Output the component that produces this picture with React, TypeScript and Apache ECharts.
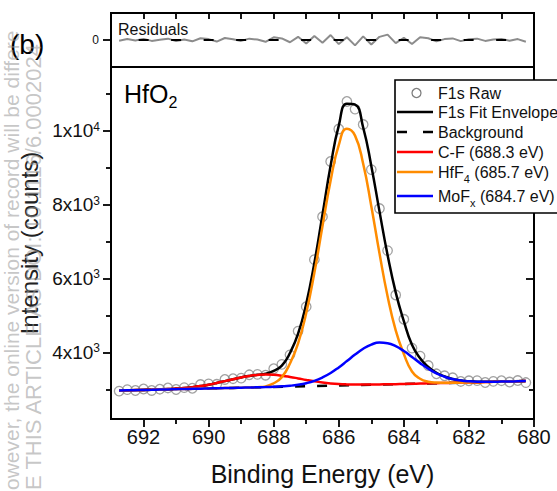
import React, { useEffect, useRef } from "react";
import * as echarts from "echarts";

const FONT = "'Liberation Sans', Arial, Helvetica, sans-serif";

// Binding energy grid (eV)
const energy = [692.75, 692.5, 692.25, 692, 691.75, 691.5, 691.25, 691, 690.75, 690.5, 690.25, 690, 689.75, 689.5, 689.25, 689, 688.75, 688.5, 688.25, 688, 687.75, 687.5, 687.25, 687, 686.75, 686.5, 686.25, 686, 685.75, 685.5, 685.25, 685, 684.75, 684.5, 684.25, 684, 683.75, 683.5, 683.25, 683, 682.75, 682.5, 682.25, 682, 681.75, 681.5, 681.25, 681, 680.75, 680.5, 680.25];

// F1s raw counts
const rawCounts = [2955, 2995, 2971, 3011, 2972, 3006, 3040, 2998, 3049, 3032, 3132, 3149, 3139, 3269, 3290, 3305, 3395, 3407, 3384, 3560, 3678, 3935, 4577, 5236, 6509, 7671, 9164, 10044, 10787, 10581, 10164, 8945, 7892, 6754, 5555, 4897, 4117, 3901, 3646, 3422, 3369, 3315, 3216, 3234, 3239, 3187, 3218, 3236, 3200, 3240, 3185];

// Fit envelope
const fitEnvelope = [2970, 2975, 2981, 2986, 2992, 3001, 3010, 3023, 3039, 3062, 3092, 3129, 3174, 3224, 3275, 3325, 3365, 3397, 3424, 3500, 3643, 3985, 4507, 5316, 6419, 7731, 9054, 10134, 10727, 10701, 10084, 9045, 7822, 6634, 5625, 4847, 4207, 3841, 3606, 3452, 3349, 3280, 3241, 3219, 3209, 3207, 3208, 3211, 3215, 3220, 3225];

// Components (drawn on the background)
const cfComponent = [2970, 2975, 2981, 2986, 2992, 3001, 3010, 3023, 3039, 3062, 3092, 3129, 3174, 3224, 3275, 3325, 3365, 3391, 3402, 3395, 3372, 3338, 3298, 3256, 3218, 3187, 3163, 3146, 3136, 3131, 3130, 3132, 3135, 3139, 3143, 3149, 3154, 3159, 3164, 3169, 3174, 3179, 3184, 3189, 3194, 3200, 3205, 3210, 3215, 3220, 3225];
const hfComponent = [2970, 2975, 2980, 2985, 2990, 2996, 3001, 3006, 3011, 3016, 3021, 3026, 3031, 3036, 3041, 3047, 3052, 3062, 3082, 3167, 3332, 3702, 4247, 5066, 6154, 7417, 8653, 9608, 10050, 9864, 9101, 7956, 6686, 5521, 4599, 3959, 3484, 3289, 3209, 3184, 3179, 3179, 3184, 3189, 3194, 3200, 3205, 3210, 3215, 3220, 3225];
const moComponent = [2970, 2975, 2980, 2985, 2990, 2996, 3001, 3006, 3011, 3016, 3021, 3026, 3031, 3036, 3041, 3047, 3052, 3058, 3064, 3072, 3083, 3099, 3126, 3168, 3231, 3323, 3444, 3596, 3767, 3942, 4099, 4213, 4267, 4250, 4169, 4037, 3877, 3711, 3561, 3437, 3344, 3280, 3241, 3219, 3209, 3207, 3208, 3211, 3215, 3220, 3225];

// Linear background end points
const bgEnergy = [692.75, 680.25];
const bgCounts = [2970, 3225];

// Residuals (raw - fit)
const residuals = [-15, 20, -10, 25, -20, 5, 30, -25, 10, -30, 40, 20, -35, 45, 15, -20, 30, 10, -40, 60, 35, -50, 70, -80, 90, -60, 110, -90, 60, -120, 80, -100, 70, 120, -70, 50, -90, 60, 40, -30, 20, 35, -25, 15, 30, -20, 10, 25, -15, 20, -40];

// Ticks
const xMajorTicks = [680, 682, 684, 686, 688, 690, 692];
const xMinorTicks = [681, 683, 685, 687, 689, 691];
const residualTopTicks = [681, 682, 683, 684, 685, 686, 687, 688, 689, 690, 691, 692];
const yMajorTicks = [4000, 6000, 8000, 10000];
const yMinorTicks = [3000, 5000, 7000, 9000, 11000];
const residualTicks = [0];

const legendItems = [
  { label: "F1s Raw", kind: "circle" },
  { label: "F1s Fit Envelope", kind: "line", color: "#000" },
  { label: "Background", kind: "dash", color: "#000" },
  { label: "C-F (688.3 eV)", kind: "line", color: "#ff0000" },
  { label: "{n|HfF}{s|4}{n| (685.7 eV)}", kind: "line", color: "#ff8c00" },
  { label: "{n|MoF}{s|x}{n| (684.7 eV)}", kind: "line", color: "#0000ff" },
];
const legendRowsY = [93, 112, 132, 152, 172, 196];

const watermarkLines = [
  "owever, the online version of record will be differe",
  "E THIS ARTICLE AS DOI: 10.1116/6.0002024",
];

const pairs = (ys: number[]) => energy.map((e, i) => [e, ys[i]]);

const tickStyle = { color: "#000", width: 1.8 };

export default function App() {
  const ref = useRef<HTMLDivElement>(null);
  useEffect(() => {
    if (!ref.current) return;
    const chart = echarts.init(ref.current, null, { renderer: "svg" });

    const xMin = 680;
    const xMax = 693;
    const yMin = 2200;
    const yMax = 11720;

    const legendGraphics: any[] = [
      {
        type: "rect",
        shape: { x: 395, y: 80, width: 200, height: 133 },
        style: { fill: "#fff", stroke: "#000", lineWidth: 1.6 },
        z: 100,
      },
    ];
    const subRich = {
      n: { fontSize: 16, lineHeight: 24, fontFamily: FONT, fill: "#111" },
      s: { fontSize: 11, lineHeight: 4, verticalAlign: "bottom", fontFamily: FONT, fill: "#111" },
    };
    legendItems.forEach((it, i) => {
      const y = legendRowsY[i];
      if (it.kind === "circle") {
        legendGraphics.push({
          type: "circle",
          shape: { cx: 416.5, cy: y, r: 4.5 },
          style: { fill: "none", stroke: "#808080", lineWidth: 1.3 },
          z: 101,
        });
      } else if (it.kind === "dash") {
        legendGraphics.push({
          type: "line",
          shape: { x1: 397, y1: y, x2: 433, y2: y },
          style: { stroke: it.color, lineWidth: 2.5, lineDash: [10, 16] },
          z: 101,
        });
      } else {
        legendGraphics.push({
          type: "line",
          shape: { x1: 397, y1: y, x2: 433, y2: y },
          style: { stroke: it.color, lineWidth: 2.5 },
          z: 101,
        });
      }
      const isRich = it.label.indexOf("{") === 0;
      legendGraphics.push({
        type: "text",
        x: 438,
        y,
        style: isRich
          ? { text: it.label, rich: subRich, align: "left", verticalAlign: "middle" }
          : {
              text: it.label,
              fontSize: 16,
              fontFamily: FONT,
              fill: "#111",
              align: "left",
              verticalAlign: "middle",
            },
        z: 102,
      });
    });

    const yLabelFormatter = (v: number) => {
      const e = Math.floor(Math.log10(v) + 1e-9);
      const m = Math.round(v / Math.pow(10, e));
      return `{m|${m}x10}{e|${e}}`;
    };

    const lineSeries = (name: string, ys: number[], color: string, z: number) => ({
      name,
      type: "line",
      xAxisIndex: 1,
      yAxisIndex: 1,
      data: pairs(ys),
      showSymbol: false,
      smooth: 0.5,
      lineStyle: { color, width: 2.5 },
      z,
    });

    const option: any = {
      animation: false,
      backgroundColor: "#fff",
      textStyle: { fontFamily: FONT },
      grid: [
        { left: 111, top: 13, width: 423, height: 54, show: true, borderColor: "#000", borderWidth: 2, backgroundColor: "transparent" },
        { left: 111, top: 67, width: 423, height: 353, show: true, borderColor: "#000", borderWidth: 2, backgroundColor: "transparent" },
      ],
      xAxis: [
        {
          gridIndex: 0,
          type: "value",
          min: xMin,
          max: xMax,
          inverse: true,
          position: "top",
          axisLine: { show: false, onZero: false },
          axisTick: { show: true, inside: true, length: 6, lineStyle: tickStyle, customValues: residualTopTicks },
          axisLabel: { show: false },
          splitLine: { show: false },
        },
        {
          gridIndex: 1,
          type: "value",
          min: xMin,
          max: xMax,
          inverse: true,
          position: "bottom",
          axisLine: { show: false, onZero: false },
          axisTick: { show: true, inside: false, length: 8, lineStyle: tickStyle, customValues: xMajorTicks },
          axisLabel: { show: true, customValues: xMajorTicks, fontSize: 20, color: "#111", margin: 8, fontFamily: FONT },
          splitLine: { show: false },
          name: "Binding Energy (eV)",
          nameLocation: "middle",
          nameGap: 42,
          nameTextStyle: { fontSize: 25, color: "#111", fontFamily: FONT },
        },
        {
          gridIndex: 1,
          type: "value",
          min: xMin,
          max: xMax,
          inverse: true,
          position: "bottom",
          axisLine: { show: false, onZero: false },
          axisTick: { show: true, inside: false, length: 5, lineStyle: tickStyle, customValues: xMinorTicks },
          axisLabel: { show: false },
          splitLine: { show: false },
        },
      ],
      yAxis: [
        {
          gridIndex: 0,
          type: "value",
          min: -600,
          max: 600,
          position: "left",
          axisLine: { show: false, onZero: false },
          axisTick: { show: true, inside: false, length: 8, lineStyle: tickStyle, customValues: residualTicks },
          axisLabel: { show: true, customValues: residualTicks, fontSize: 12, color: "#111", margin: 12, fontFamily: FONT },
          splitLine: { show: false },
        },
        {
          gridIndex: 1,
          type: "value",
          min: yMin,
          max: yMax,
          position: "left",
          axisLine: { show: false, onZero: false },
          axisTick: { show: true, inside: false, length: 8, lineStyle: tickStyle, customValues: yMajorTicks },
          axisLabel: {
            show: true,
            customValues: yMajorTicks,
            margin: 11,
            formatter: yLabelFormatter,
            rich: {
              m: { fontSize: 19, lineHeight: 20, color: "#111", fontFamily: FONT },
              e: { fontSize: 12, lineHeight: 10, verticalAlign: "top", color: "#111", fontFamily: FONT },
            },
          },
          splitLine: { show: false },
          name: "Intensity (counts)",
          nameLocation: "middle",
          nameGap: 67,
          nameTextStyle: { fontSize: 24, color: "#222", fontFamily: FONT },
        },
        {
          gridIndex: 1,
          type: "value",
          min: yMin,
          max: yMax,
          position: "left",
          axisLine: { show: false, onZero: false },
          axisTick: { show: true, inside: false, length: 5, lineStyle: tickStyle, customValues: yMinorTicks },
          axisLabel: { show: false },
          splitLine: { show: false },
        },
        {
          gridIndex: 1,
          type: "value",
          min: yMin,
          max: yMax,
          position: "right",
          axisLine: { show: false, onZero: false },
          axisTick: { show: true, inside: true, length: 8, lineStyle: tickStyle, customValues: yMajorTicks },
          axisLabel: { show: false },
          splitLine: { show: false },
        },
        {
          gridIndex: 1,
          type: "value",
          min: yMin,
          max: yMax,
          position: "right",
          axisLine: { show: false, onZero: false },
          axisTick: { show: true, inside: true, length: 5, lineStyle: tickStyle, customValues: yMinorTicks },
          axisLabel: { show: false },
          splitLine: { show: false },
        },
      ],
      series: [
        {
          name: "Residual",
          type: "line",
          xAxisIndex: 0,
          yAxisIndex: 0,
          data: pairs(residuals),
          showSymbol: false,
          lineStyle: { color: "#8c8c8c", width: 2 },
          z: 2,
        },
        {
          name: "Zero",
          type: "line",
          xAxisIndex: 0,
          yAxisIndex: 0,
          data: [[energy[0], 0], [energy[energy.length - 1], 0]],
          showSymbol: false,
          lineStyle: { color: "#000", width: 2, type: [10, 22.5], dashOffset: 13 },
          z: 3,
        },
        {
          name: "F1s Raw",
          type: "scatter",
          xAxisIndex: 1,
          yAxisIndex: 1,
          data: pairs(rawCounts),
          symbol: "circle",
          symbolSize: 9.5,
          itemStyle: { color: "rgba(255,255,255,0)", borderColor: "#8a8a8a", borderWidth: 1.3 },
          z: 1,
        },
        {
          name: "Background",
          type: "line",
          xAxisIndex: 1,
          yAxisIndex: 1,
          data: bgEnergy.map((e, i) => [e, bgCounts[i]]),
          showSymbol: false,
          lineStyle: { color: "#000", width: 2.5, type: [10, 12] },
          z: 2,
        },
        lineSeries("F1s Fit Envelope", fitEnvelope, "#000", 3),
        lineSeries("C-F", cfComponent, "#ff0000", 4),
        lineSeries("HfF4", hfComponent, "#ff8c00", 5),
        lineSeries("MoFx", moComponent, "#0000ff", 6),
      ],
      graphic: [
        {
          type: "text",
          x: 10,
          y: 44,
          style: { text: "(b)", fontSize: 28, fontFamily: FONT, fill: "#000", align: "left", verticalAlign: "middle" },
          z: 50,
        },
        {
          type: "text",
          x: 118,
          y: 29,
          style: { text: "Residuals", fontSize: 16, fontFamily: FONT, fill: "#111", align: "left", verticalAlign: "middle" },
          z: 50,
        },
        {
          type: "text",
          x: 124,
          y: 94,
          style: {
            text: "{n|HfO}{s|2}",
            align: "left",
            verticalAlign: "middle",
            rich: {
              n: { fontSize: 25, lineHeight: 32, fontFamily: FONT, fill: "#000" },
              s: { fontSize: 16, lineHeight: 6, verticalAlign: "bottom", fontFamily: FONT, fill: "#000" },
            },
          },
          z: 50,
        },
        ...legendGraphics,
        {
          type: "text",
          x: 11,
          y: 490,
          rotation: Math.PI / 2,
          style: {
            text: watermarkLines[0],
            fontSize: 21,
            fontFamily: FONT,
            fill: "rgba(150,150,150,0.55)",
            align: "left",
            verticalAlign: "middle",
          },
          z: 200,
          silent: true,
        },
        {
          type: "text",
          x: 33,
          y: 490,
          rotation: Math.PI / 2,
          style: {
            text: watermarkLines[1],
            fontSize: 22,
            fontFamily: FONT,
            fill: "rgba(150,150,150,0.55)",
            align: "left",
            verticalAlign: "middle",
          },
          z: 200,
          silent: true,
        },
      ],
    };

    chart.setOption(option);
    return () => {
      chart.dispose();
    };
  }, []);

  return (
    <div
      ref={ref}
      style={{ position: "fixed", left: 0, top: 0, width: 557, height: 491, background: "#fff" }}
    />
  );
}
